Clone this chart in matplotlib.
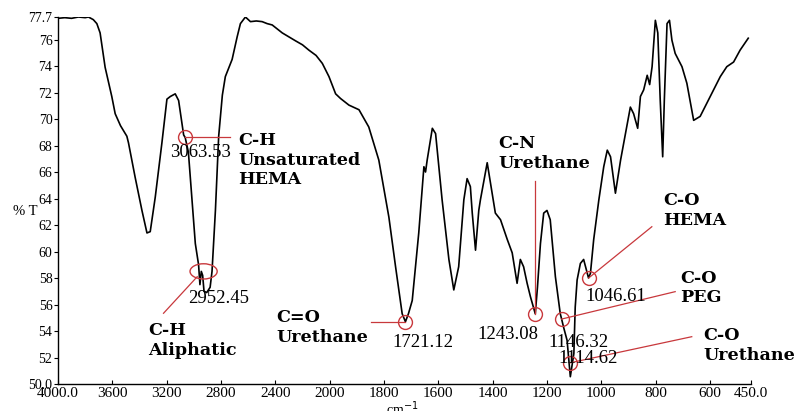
import numpy as np
import matplotlib
matplotlib.use("Agg")
import matplotlib.pyplot as plt
from matplotlib.patches import Ellipse

# ---------------- data ----------------
wavenumber = [4000, 3950, 3900, 3850, 3800, 3776, 3740, 3714, 3690, 3653, 3604, 3579, 3540,
              3493, 3481, 3432, 3382, 3345, 3321, 3284, 3235, 3198, 3173, 3137, 3112, 3075,
              3063.5, 3040, 3010, 2989, 2965, 2955, 2945, 2935, 2925, 2905, 2880, 2866, 2841,
              2817, 2790, 2768, 2718, 2681, 2657, 2620, 2583, 2540, 2497, 2460, 2423, 2349,
              2300, 2251, 2200, 2153, 2100, 2054, 2005, 1978, 1960, 1929, 1892, 1856, 1819,
              1782, 1757, 1733, 1721, 1710, 1696, 1672, 1653, 1647, 1641, 1622, 1610, 1586,
              1561, 1543, 1525, 1506, 1494, 1482, 1475, 1463, 1451, 1445, 1420, 1402, 1390,
              1371, 1346, 1328, 1310, 1298, 1286, 1273, 1261, 1243, 1235, 1224, 1212, 1200,
              1188, 1169, 1151, 1146, 1139, 1126, 1114, 1101, 1096, 1089, 1077, 1065, 1047,
              1040, 1028, 1009, 991, 978, 966, 948, 929, 911, 893, 881, 866, 856, 844, 831,
              822, 813, 801, 792, 783, 774, 768, 758, 749, 740, 728, 703, 685, 660, 636, 599,
              562, 538, 513, 489, 459]
transmittance = [77.6, 77.65, 77.6, 77.7, 77.65, 77.7, 77.5, 77.2, 76.5, 73.9, 71.7, 70.4, 69.5,
                 68.7, 68.2, 65.6, 63.1, 61.4, 61.5, 64.1, 68.2, 71.5, 71.7, 71.9, 71.4, 68.8,
                 68.6, 67.5, 63.5, 60.6, 59.0, 57.5, 58.5, 58.2, 57.0, 56.9, 57.3, 58.5, 63.1,
                 68.7, 71.8, 73.2, 74.5, 76.2, 77.2, 77.7, 77.35, 77.4, 77.35, 77.2, 77.1, 76.5,
                 76.2, 75.9, 75.6, 75.2, 74.8, 74.2, 73.2, 71.9, 71.55, 71.05, 70.7, 69.4, 66.9,
                 62.6, 58.8, 55.3, 54.7, 55.3, 56.3, 61.4, 66.4, 66.0, 66.9, 69.3, 68.9, 63.9,
                 59.4, 57.1, 58.85, 63.9, 65.5, 64.9, 62.9, 60.1, 63.1, 63.9, 66.7, 64.4, 62.9,
                 62.4, 60.9, 59.9, 57.6, 59.4, 58.85, 57.6, 56.6, 55.3, 57.3, 60.6, 62.9, 63.1,
                 62.4, 58.1, 55.3, 54.9, 54.3, 53.3, 50.55, 52.3, 55.8, 57.85, 59.1, 59.4, 58.0,
                 58.35, 60.9, 63.9, 66.4, 67.65, 67.15, 64.4, 66.9, 68.9, 70.9, 70.4, 69.3, 71.7,
                 72.2, 73.3, 72.6, 73.95, 77.45, 76.5, 71.4, 67.15, 71.4, 77.2, 77.45, 75.95,
                 74.95, 73.95, 72.7, 69.9, 70.2, 71.7, 73.2, 73.95, 74.3, 75.2, 76.1]

peak_wn = [3063.53, 2952.45, 1721.12, 1243.08, 1146.32, 1114.62, 1046.61]
peak_T = [68.65, 58.5, 54.7, 55.3, 54.9, 51.6, 58.0]
peak_labels = ["3063.53", "2952.45", "1721.12", "1243.08", "1146.32", "1114.62", "1046.61"]
group_labels = ["C-H\nUnsaturated\nHEMA", "C-H\nAliphatic", "C=O\nUrethane",
                "C-N\nUrethane", "C-O\nPEG", "C-O\nUrethane", "C-O\nHEMA"]

xtick_values = [4000, 3600, 3200, 2800, 2400, 2000, 1800, 1600, 1400, 1200, 1000, 800, 600, 450]
xtick_labels = ["4000.0", "3600", "3200", "2800", "2400", "2000", "1800", "1600", "1400",
                "1200", "1000", "800", "600", "450.0"]
ytick_values = [50.0, 52, 54, 56, 58, 60, 62, 64, 66, 68, 70, 72, 74, 76, 77.7]
ytick_labels = ["50.0", "52", "54", "56", "58", "60", "62", "64", "66", "68", "70", "72",
                "74", "76", "77.7"]

# ---------------- figure ----------------
RED = "#c8383c"
SERIF = "Liberation Serif"
BOLD_SERIF = "DejaVu Serif"

fig = plt.figure(figsize=(7.95, 4.11), dpi=100)
ax = fig.add_axes([58 / 795, 27 / 411, (750.7 - 58) / 795, (384 - 17) / 411])


def fwd(w):
    w = np.asarray(w, dtype=float)
    return np.where(w >= 2000, w, 2 * w - 2000)


def inv(v):
    v = np.asarray(v, dtype=float)
    return np.where(v >= 2000, v, (v + 2000) / 2)


ax.set_xscale("function", functions=(fwd, inv))
ax.plot(wavenumber, transmittance, color="black", lw=1.2, zorder=3)
ax.set_xlim(4000, 450)
ax.set_ylim(50.0, 77.7)

ax.set_xticks(xtick_values)
ax.set_xticklabels(xtick_labels, fontfamily=SERIF, fontsize=11)
ax.set_yticks(ytick_values)
ax.set_yticklabels(ytick_labels, fontfamily=SERIF, fontsize=10)
ax.xaxis.set_minor_locator(matplotlib.ticker.NullLocator())
ax.yaxis.set_minor_locator(matplotlib.ticker.NullLocator())
ax.tick_params(axis="x", direction="in", length=3, pad=2, width=0.8)
ax.tick_params(axis="y", direction="out", length=3, pad=1, width=0.8)
for s in ["top", "right"]:
    ax.spines[s].set_visible(False)
for s in ["left", "bottom"]:
    ax.spines[s].set_linewidth(1.0)

fig.text(13 / 795, 1 - 211 / 411, "% T", fontfamily=SERIF, fontsize=10.5, va="center", ha="left")
fig.text(402 / 795, 1 - 409 / 411, "cm$^{-1}$", fontfamily=SERIF, fontsize=10,
         va="center", ha="center")

# ---------------- annotations (layout) ----------------
# (label x, label y, group text x, group text y (block centre), line end x, line end y)
layout = [
    (2952, 67.45, 2672, 66.9, 2731, 68.65),
    (2815, 56.42, 3336, 53.3, 3223, 55.34),
    (1656, 53.1, 2391, 54.25, 1849, 54.7),
    (1344, 53.75, 1379, 67.4, 1243.08, 65.3),
    (1083, 53.1, 710, 57.25, 728, 56.97),
    (1048, 51.9, 625, 52.9, 667, 53.57),
    (945, 56.57, 772, 63.1, 814, 61.87),
]

for i, (wn, t) in enumerate(zip(peak_wn, peak_T)):
    lx, ly, gx, gy, ex, ey = layout[i]
    if i == 1:
        ax.add_patch(Ellipse((2928, t), 200, 1.15, fill=False, edgecolor=RED, lw=1.0, zorder=4))
        ax.plot([2975, ex], [58.1, ey], color=RED, lw=0.9, zorder=4)
    else:
        ax.plot([wn], [t], marker="o", ms=10, mfc="none", mec=RED, mew=1.0, zorder=4)
        ax.plot([wn, ex], [t, ey], color=RED, lw=0.9, zorder=4)
    ax.text(lx, ly, peak_labels[i], fontfamily=SERIF, fontsize=13.5, ha="center",
            va="center", color="black", zorder=5)
    ax.text(gx, gy, group_labels[i], fontfamily=BOLD_SERIF, fontweight="bold", fontsize=12.6,
            ha="left", va="center", linespacing=1.22, color="black", zorder=5, clip_on=False)

fig.savefig("out.png", dpi=100)
